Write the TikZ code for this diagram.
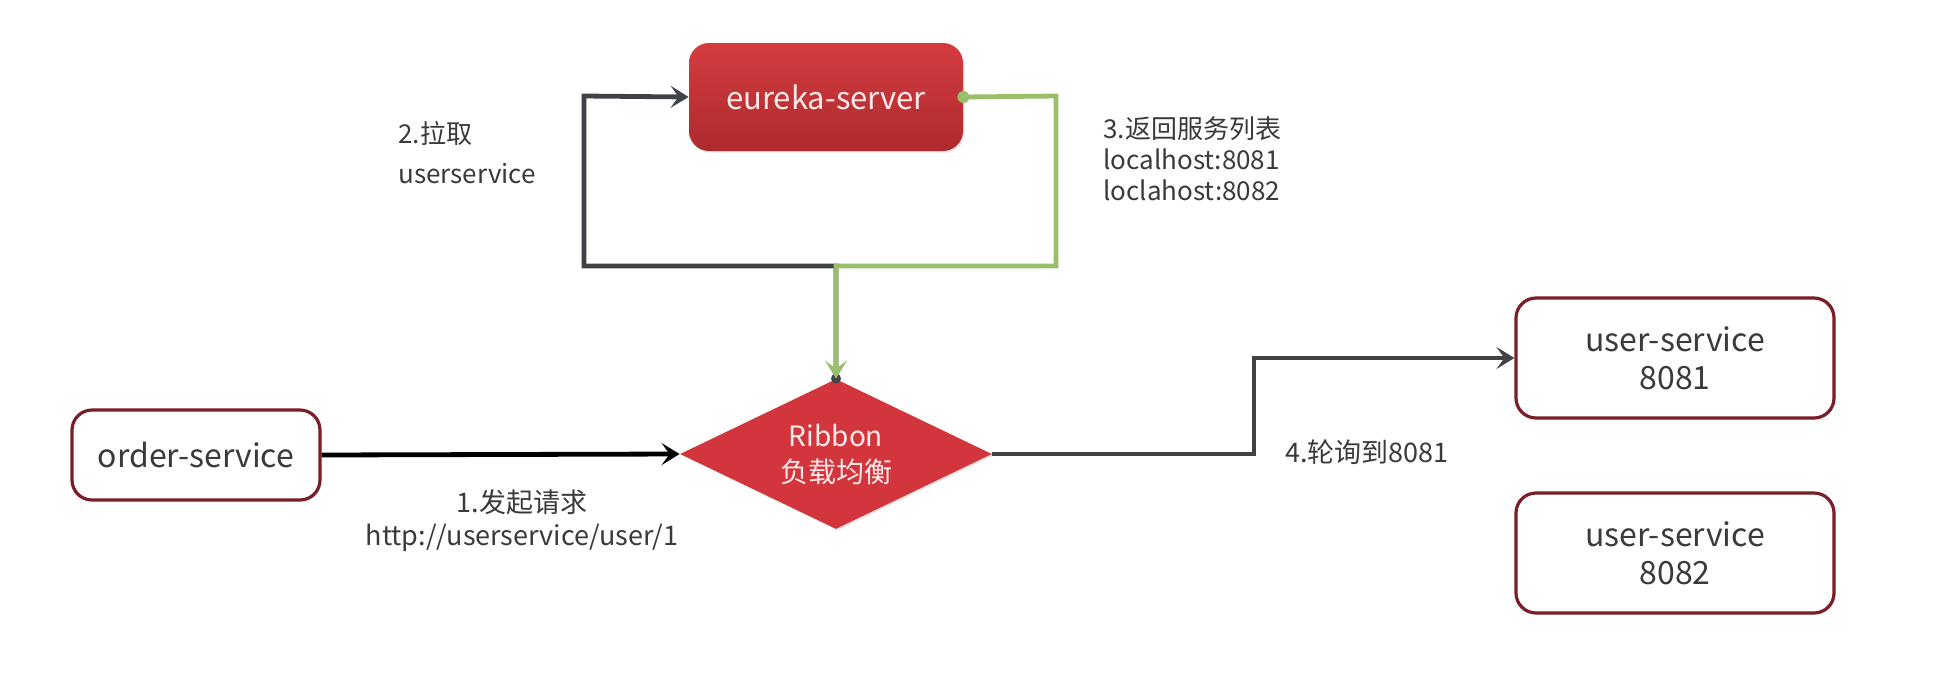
\documentclass[tikz,border=0pt]{standalone}
\usepackage{fontspec}
\setmainfont{Noto Sans CJK SC}
\usetikzlibrary{arrows.meta,shapes.geometric,shadows}
\definecolor{boxred}{HTML}{7A1F27}
\definecolor{fillred}{HTML}{D2363C}
\definecolor{topred}{HTML}{D43C3F}
\definecolor{botred}{HTML}{AE2A2E}
\definecolor{linegray}{HTML}{3F4347}
\definecolor{linegreen}{HTML}{9BBE6B}
\definecolor{txtgray}{HTML}{3A3A3A}
\tikzset{
  svcbox/.style={draw=boxred, line width=1.6pt, rounded corners=10pt, fill=white,
    align=center, font=\fontsize{16}{19}\selectfont, text=txtgray,
    drop shadow={opacity=0.15, shadow xshift=0.8pt, shadow yshift=-0.8pt}},
  eurbox/.style={rounded corners=10pt, top color=topred, bottom color=botred, draw=none,
    minimum width=137pt, minimum height=54pt, text=white!92!red, font=\fontsize{15.5}{19}\selectfont,
    drop shadow={opacity=0.2, shadow xshift=0.8pt, shadow yshift=-0.8pt}},
  ribdia/.style={diamond, aspect=2.08, fill=fillred, draw=none, inner sep=0pt,
    minimum width=156pt, minimum height=75pt, text=white!92!red, align=center,
    font=\fontsize{14}{18}\selectfont,
    drop shadow={opacity=0.2, shadow xshift=0.8pt, shadow yshift=-0.8pt}},
  lbl/.style={text=txtgray, font=\fontsize{13}{16}\selectfont, inner sep=0pt},
  tip/.style={-{Stealth[length=9pt, width=11pt, inset=4pt]}},
  grayline/.style={draw=linegray, line width=2.4pt},
  greenline/.style={draw=linegreen, line width=2.4pt},
}
\begin{document}
\begin{tikzpicture}[x=0.5pt,y=-0.5pt]
\useasboundingbox[fill=white] (0,0) rectangle (1945,676);

\node[eurbox] (eur) at (826,97) {eureka-server};
\node[ribdia] (rib) at (836,454) {Ribbon\\负载均衡};
\node[svcbox, minimum width=124pt, minimum height=45pt] (ord) at (196,455) {order-service};
\node[svcbox, minimum width=159pt, minimum height=60pt] (us1) at (1675,358) {user-service\\8081};
\node[svcbox, minimum width=159pt, minimum height=60pt] (us2) at (1675,553) {user-service\\8082};

\coordinate (bl) at (584,266);
\coordinate (tl) at (584,96);
\coordinate (jn) at (836,266);
\coordinate (gr) at (1056,96);
\coordinate (gb) at (1056,266);
\coordinate (rk) at (1254,454);
\coordinate (rt) at (1254,358);

% 2. pull (gray loop)
\draw[grayline, tip] (rib.north) -- (jn) -- (bl) -- (tl) -- (eur.west);
\fill[linegray] (rib.north) circle (5);
% 3. return list (green)
\draw[greenline, tip] (eur.east) -- (gr) -- (gb) -- (jn) -- (rib.north);
\fill[linegreen] (eur.east) circle (6);
% 1. request
\draw[black, line width=2.4pt, tip] (ord.east) -- (rib.west);
% 4. round robin
\draw[grayline, tip] (rib.east) -- (rk) -- (rt) -- (us1.west);

\node[lbl, anchor=west, align=left, font=\fontsize{13}{20}\selectfont] (l2) at (398,153) {2.拉取\\userservice};
\node[lbl, anchor=west, align=left, font=\fontsize{13}{15.5}\selectfont] (l3) at (1103,159) {3.返回服务列表\\localhost:8081\\loclahost:8082};
\node[lbl, align=center, font=\fontsize{13.5}{16.5}\selectfont] (l1) at (522,521) {1.发起请求\\http://userservice/user/1};
\node[lbl, anchor=west, font=\fontsize{13.5}{16}\selectfont] (l4) at (1285,452) {4.轮询到8081};
\end{tikzpicture}
\end{document}
